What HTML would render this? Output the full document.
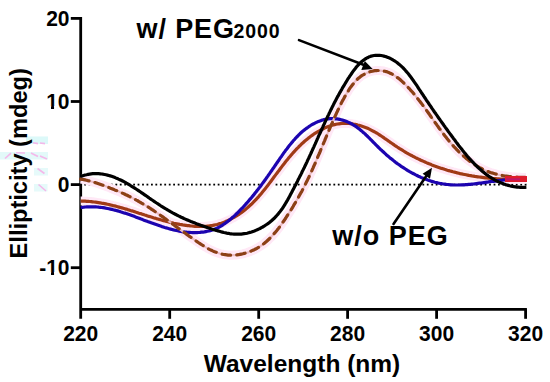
<!DOCTYPE html>
<html><head><meta charset="utf-8"><style>
html,body{margin:0;padding:0;background:#fff;width:550px;height:382px;overflow:hidden}
svg{display:block}
text{font-family:"Liberation Sans",sans-serif}
</style></head><body>
<svg width="550" height="382" viewBox="0 0 550 382"><g opacity="0.85"><rect x="26" y="136.5" width="22" height="7.5" fill="#d6f8f8"/><rect x="0" y="152" width="48" height="7.5" fill="#dff9f9"/><rect x="34" y="168" width="14" height="7.5" fill="#e2fafa"/><rect x="34" y="184" width="13.5" height="7.5" fill="#e2fafa"/></g>
<g stroke="#f7a8e6" stroke-width="1.6" fill="none" opacity="0.8"><path d="M33,142.8 L38,143.6 M40,143 L45,143.6 M5,158.5 L11,153.2 M16,152.8 L25,153 M31,153 L38,156.5 M40,156 L47,159 M37.5,168.5 L44.5,173.5 M38.5,184.5 L46,191"/></g>
<line x1="80.7" y1="17" x2="80.7" y2="318.8" stroke="#000" stroke-width="2.8"/>
<line x1="80.7" y1="309.3" x2="526.9" y2="309.3" stroke="#000" stroke-width="2.8"/>
<line x1="70.8" y1="18.4" x2="80.7" y2="18.4" stroke="#000" stroke-width="2.8"/>
<line x1="70.8" y1="101.5" x2="80.7" y2="101.5" stroke="#000" stroke-width="2.8"/>
<line x1="70.8" y1="184.6" x2="80.7" y2="184.6" stroke="#000" stroke-width="2.8"/>
<line x1="70.8" y1="267.7" x2="80.7" y2="267.7" stroke="#000" stroke-width="2.8"/>
<line x1="169.7" y1="309.3" x2="169.7" y2="318.8" stroke="#000" stroke-width="2.8"/>
<line x1="258.7" y1="309.3" x2="258.7" y2="318.8" stroke="#000" stroke-width="2.8"/>
<line x1="347.6" y1="309.3" x2="347.6" y2="318.8" stroke="#000" stroke-width="2.8"/>
<line x1="436.6" y1="309.3" x2="436.6" y2="318.8" stroke="#000" stroke-width="2.8"/>
<line x1="525.6" y1="309.3" x2="525.6" y2="318.8" stroke="#000" stroke-width="2.8"/>
<g fill="#000"><rect x="84.2" y="183.7" width="1.8" height="1.8"/><rect x="88.7" y="183.7" width="1.8" height="1.8"/><rect x="93.1" y="183.7" width="1.8" height="1.8"/><rect x="97.6" y="183.7" width="1.8" height="1.8"/><rect x="102.0" y="183.7" width="1.8" height="1.8"/><rect x="106.5" y="183.7" width="1.8" height="1.8"/><rect x="110.9" y="183.7" width="1.8" height="1.8"/><rect x="115.4" y="183.7" width="1.8" height="1.8"/><rect x="119.8" y="183.7" width="1.8" height="1.8"/><rect x="124.3" y="183.7" width="1.8" height="1.8"/><rect x="128.7" y="183.7" width="1.8" height="1.8"/><rect x="133.2" y="183.7" width="1.8" height="1.8"/><rect x="137.6" y="183.7" width="1.8" height="1.8"/><rect x="142.1" y="183.7" width="1.8" height="1.8"/><rect x="146.5" y="183.7" width="1.8" height="1.8"/><rect x="151.0" y="183.7" width="1.8" height="1.8"/><rect x="155.4" y="183.7" width="1.8" height="1.8"/><rect x="159.9" y="183.7" width="1.8" height="1.8"/><rect x="164.3" y="183.7" width="1.8" height="1.8"/><rect x="168.8" y="183.7" width="1.8" height="1.8"/><rect x="173.2" y="183.7" width="1.8" height="1.8"/><rect x="177.7" y="183.7" width="1.8" height="1.8"/><rect x="182.1" y="183.7" width="1.8" height="1.8"/><rect x="186.6" y="183.7" width="1.8" height="1.8"/><rect x="191.0" y="183.7" width="1.8" height="1.8"/><rect x="195.5" y="183.7" width="1.8" height="1.8"/><rect x="199.9" y="183.7" width="1.8" height="1.8"/><rect x="204.4" y="183.7" width="1.8" height="1.8"/><rect x="208.8" y="183.7" width="1.8" height="1.8"/><rect x="213.3" y="183.7" width="1.8" height="1.8"/><rect x="217.7" y="183.7" width="1.8" height="1.8"/><rect x="222.2" y="183.7" width="1.8" height="1.8"/><rect x="226.6" y="183.7" width="1.8" height="1.8"/><rect x="231.1" y="183.7" width="1.8" height="1.8"/><rect x="235.5" y="183.7" width="1.8" height="1.8"/><rect x="240.0" y="183.7" width="1.8" height="1.8"/><rect x="244.4" y="183.7" width="1.8" height="1.8"/><rect x="248.9" y="183.7" width="1.8" height="1.8"/><rect x="253.3" y="183.7" width="1.8" height="1.8"/><rect x="257.8" y="183.7" width="1.8" height="1.8"/><rect x="262.2" y="183.7" width="1.8" height="1.8"/><rect x="266.7" y="183.7" width="1.8" height="1.8"/><rect x="271.1" y="183.7" width="1.8" height="1.8"/><rect x="275.6" y="183.7" width="1.8" height="1.8"/><rect x="280.0" y="183.7" width="1.8" height="1.8"/><rect x="284.5" y="183.7" width="1.8" height="1.8"/><rect x="288.9" y="183.7" width="1.8" height="1.8"/><rect x="293.4" y="183.7" width="1.8" height="1.8"/><rect x="297.8" y="183.7" width="1.8" height="1.8"/><rect x="302.2" y="183.7" width="1.8" height="1.8"/><rect x="306.7" y="183.7" width="1.8" height="1.8"/><rect x="311.1" y="183.7" width="1.8" height="1.8"/><rect x="315.6" y="183.7" width="1.8" height="1.8"/><rect x="320.0" y="183.7" width="1.8" height="1.8"/><rect x="324.5" y="183.7" width="1.8" height="1.8"/><rect x="328.9" y="183.7" width="1.8" height="1.8"/><rect x="333.4" y="183.7" width="1.8" height="1.8"/><rect x="337.8" y="183.7" width="1.8" height="1.8"/><rect x="342.3" y="183.7" width="1.8" height="1.8"/><rect x="346.7" y="183.7" width="1.8" height="1.8"/><rect x="351.2" y="183.7" width="1.8" height="1.8"/><rect x="355.6" y="183.7" width="1.8" height="1.8"/><rect x="360.1" y="183.7" width="1.8" height="1.8"/><rect x="364.5" y="183.7" width="1.8" height="1.8"/><rect x="369.0" y="183.7" width="1.8" height="1.8"/><rect x="373.4" y="183.7" width="1.8" height="1.8"/><rect x="377.9" y="183.7" width="1.8" height="1.8"/><rect x="382.3" y="183.7" width="1.8" height="1.8"/><rect x="386.8" y="183.7" width="1.8" height="1.8"/><rect x="391.2" y="183.7" width="1.8" height="1.8"/><rect x="395.7" y="183.7" width="1.8" height="1.8"/><rect x="400.1" y="183.7" width="1.8" height="1.8"/><rect x="404.6" y="183.7" width="1.8" height="1.8"/><rect x="409.0" y="183.7" width="1.8" height="1.8"/><rect x="413.5" y="183.7" width="1.8" height="1.8"/><rect x="417.9" y="183.7" width="1.8" height="1.8"/><rect x="422.4" y="183.7" width="1.8" height="1.8"/><rect x="426.8" y="183.7" width="1.8" height="1.8"/><rect x="431.3" y="183.7" width="1.8" height="1.8"/><rect x="435.7" y="183.7" width="1.8" height="1.8"/><rect x="440.2" y="183.7" width="1.8" height="1.8"/><rect x="444.6" y="183.7" width="1.8" height="1.8"/><rect x="449.1" y="183.7" width="1.8" height="1.8"/><rect x="453.5" y="183.7" width="1.8" height="1.8"/><rect x="458.0" y="183.7" width="1.8" height="1.8"/><rect x="462.4" y="183.7" width="1.8" height="1.8"/><rect x="466.9" y="183.7" width="1.8" height="1.8"/><rect x="471.3" y="183.7" width="1.8" height="1.8"/><rect x="475.8" y="183.7" width="1.8" height="1.8"/><rect x="480.2" y="183.7" width="1.8" height="1.8"/><rect x="484.7" y="183.7" width="1.8" height="1.8"/><rect x="489.1" y="183.7" width="1.8" height="1.8"/><rect x="493.6" y="183.7" width="1.8" height="1.8"/><rect x="498.0" y="183.7" width="1.8" height="1.8"/><rect x="502.5" y="183.7" width="1.8" height="1.8"/><rect x="506.9" y="183.7" width="1.8" height="1.8"/><rect x="511.4" y="183.7" width="1.8" height="1.8"/><rect x="515.8" y="183.7" width="1.8" height="1.8"/><rect x="520.3" y="183.7" width="1.8" height="1.8"/><rect x="524.7" y="183.7" width="1.8" height="1.8"/></g>
<g fill="none" stroke="#ffe8f6" stroke-width="9" stroke-linejoin="round" stroke-linecap="butt"><path d="M80.7,179.1L82.2,179.3 83.7,179.6 85.1,179.9 86.5,180.2 88.0,180.6 89.4,180.9 90.8,181.3 92.2,181.7 93.7,182.2 95.1,182.6 96.5,183.0 97.9,183.5 99.3,184.0 100.7,184.5 102.1,185.0 103.5,185.5 104.9,186.0 106.3,186.5 107.7,187.1 109.1,187.6 110.5,188.2 111.9,188.7 113.3,189.3 114.7,189.9 116.1,190.4 117.5,191.0 118.9,191.6 120.3,192.2 121.6,192.8 123.0,193.4 124.4,194.0 125.8,194.7 127.1,195.3 128.5,196.0 129.8,196.6 131.2,197.3 132.5,198.0 133.8,198.7 135.1,199.4 136.4,200.1 137.8,200.8 139.0,201.6 140.3,202.3 141.6,203.1 142.9,203.8 144.2,204.6 145.4,205.4 146.7,206.1 148.0,206.9 149.2,207.7 150.5,208.5 151.7,209.4 153.0,210.2 154.2,211.0 155.4,211.8 156.7,212.7 157.9,213.5 159.1,214.4 160.3,215.2 161.6,216.1 162.8,216.9 164.0,217.8 165.2,218.7 166.4,219.5 167.6,220.4 168.9,221.3 170.1,222.2 171.3,223.0 172.5,223.9 173.7,224.8 174.9,225.7 176.1,226.6 177.3,227.5 178.5,228.4 179.8,229.3 181.0,230.2 182.2,231.0 183.4,231.9 184.6,232.8 185.9,233.7 187.1,234.6 188.3,235.5 189.5,236.4 190.8,237.3 192.0,238.1 193.3,239.0 194.5,239.9 195.8,240.8 197.0,241.6 198.3,242.5 199.6,243.3 200.8,244.2 202.1,245.0 203.4,245.8 204.7,246.6 206.0,247.4 207.3,248.1 208.6,248.9 209.9,249.6 211.3,250.2 212.6,250.9 214.0,251.5 215.3,252.0 216.7,252.5 218.1,253.0 219.5,253.5 220.9,253.9 222.3,254.2 223.7,254.5 225.2,254.7 226.6,254.9 228.1,255.1 229.5,255.2 231.0,255.2 232.5,255.2 234.0,255.1 235.5,255.0 237.0,254.9 238.5,254.7 239.9,254.4 241.4,254.1 242.9,253.8 244.3,253.4 245.8,253.0 247.3,252.6 248.7,252.1 250.1,251.5 251.5,250.9 252.9,250.3 254.3,249.7 255.6,249.0 256.9,248.3 258.2,247.5 259.5,246.7 260.8,245.9 262.0,245.0 263.2,244.2 264.4,243.2 265.5,242.3 266.7,241.3 267.8,240.3 268.9,239.3 269.9,238.2 271.0,237.2 272.0,236.1 273.0,235.0 274.0,233.8 275.0,232.7 276.0,231.5 276.9,230.4 277.8,229.2 278.8,228.0 279.7,226.7 280.6,225.5 281.5,224.3 282.3,223.0 283.2,221.8 284.1,220.5 284.9,219.3 285.8,218.0 286.6,216.7 287.4,215.5 288.2,214.2 289.1,212.9 289.9,211.6 290.7,210.4 291.5,209.1 292.3,207.8 293.1,206.5 293.8,205.2 294.6,203.9 295.4,202.6 296.1,201.3 296.9,200.0 297.6,198.7 298.4,197.4 299.1,196.1 299.8,194.8 300.5,193.5 301.3,192.2 302.0,190.9 302.7,189.5 303.3,188.2 304.0,186.9 304.7,185.6 305.4,184.2 306.0,182.9 306.7,181.6 307.4,180.2 308.0,178.9 308.7,177.5 309.3,176.2 309.9,174.8 310.5,173.5 311.2,172.1 311.8,170.8 312.4,169.4 313.0,168.1 313.6,166.7 314.2,165.3 314.8,164.0 315.4,162.6 316.0,161.2 316.6,159.9 317.2,158.5 317.7,157.1 318.3,155.7 318.9,154.4 319.5,153.0 320.1,151.6 320.6,150.2 321.2,148.8 321.8,147.5 322.4,146.1 322.9,144.7 323.5,143.3 324.1,141.9 324.7,140.6 325.2,139.2 325.8,137.8 326.4,136.4 327.0,135.0 327.5,133.6 328.1,132.2 328.7,130.9 329.3,129.5 329.9,128.1 330.5,126.7 331.1,125.3 331.7,123.9 332.3,122.6 332.9,121.2 333.5,119.8 334.1,118.4 334.7,117.0 335.4,115.7 336.0,114.3 336.6,112.9 337.3,111.5 337.9,110.1 338.6,108.8 339.2,107.4 339.9,106.0 340.6,104.7 341.2,103.3 341.9,101.9 342.6,100.6 343.4,99.2 344.1,97.9 344.8,96.6 345.6,95.2 346.4,93.9 347.2,92.6 348.0,91.3 348.8,90.0 349.6,88.7 350.5,87.4 351.4,86.2 352.3,85.0 353.3,83.8 354.2,82.6 355.2,81.5 356.2,80.4 357.3,79.3 358.4,78.3 359.5,77.4 360.6,76.5 361.8,75.6 363.1,74.9 364.3,74.2 365.6,73.5 366.9,72.9 368.2,72.4 369.5,71.9 370.9,71.5 372.3,71.2 373.6,70.9 375.0,70.7 376.4,70.6 377.8,70.5 379.2,70.5 380.6,70.6 382.0,70.8 383.4,71.0 384.8,71.3 386.2,71.6 387.5,72.1 388.9,72.6 390.2,73.2 391.5,73.8 392.8,74.5 394.1,75.3 395.4,76.1 396.6,77.0 397.9,77.9 399.1,78.8 400.3,79.8 401.5,80.9 402.6,81.9 403.8,83.0 404.9,84.1 406.0,85.2 407.1,86.4 408.2,87.5 409.3,88.6 410.3,89.8 411.4,91.0 412.4,92.1 413.4,93.3 414.4,94.5 415.3,95.6 416.3,96.8 417.2,98.0 418.2,99.2 419.1,100.4 420.0,101.5 420.9,102.7 421.8,103.9 422.7,105.1 423.6,106.3 424.5,107.5 425.3,108.7 426.2,109.9 427.1,111.1 427.9,112.3 428.8,113.5 429.6,114.7 430.5,116.0 431.3,117.2 432.2,118.4 433.0,119.6 433.9,120.8 434.7,122.0 435.6,123.2 436.5,124.4 437.3,125.6 438.2,126.8 439.0,128.0 439.9,129.2 440.8,130.4 441.7,131.6 442.6,132.8 443.5,134.0 444.4,135.2 445.3,136.4 446.3,137.5 447.2,138.7 448.2,139.9 449.1,141.1 450.1,142.2 451.1,143.4 452.1,144.5 453.1,145.7 454.1,146.8 455.2,147.9 456.2,149.0 457.3,150.1 458.3,151.2 459.4,152.3 460.5,153.3 461.6,154.4 462.7,155.4 463.9,156.4 465.0,157.4 466.1,158.4 467.3,159.3 468.5,160.2 469.7,161.2 470.9,162.1 472.1,162.9 473.3,163.8 474.6,164.6 475.8,165.4 477.1,166.2 478.3,166.9 479.6,167.7 480.9,168.3 482.3,169.0 483.6,169.7 484.9,170.3 486.3,170.8 487.7,171.4 489.1,171.9 490.4,172.4 491.9,172.9 493.3,173.3 494.7,173.7 496.1,174.1 497.6,174.5 499.0,174.8 500.5,175.1 502.0,175.4 503.4,175.7 504.9,176.0 506.4,176.2 507.9,176.4 509.4,176.6 510.9,176.7 512.4,176.9 513.9,177.0 515.4,177.1 516.9,177.2 518.5,177.3 520.0,177.3 521.5,177.4 523.0,177.4 524.5,177.4 526.0,177.4"/><path d="M80.7,201.1L82.1,201.1 83.6,201.2 85.1,201.2 86.7,201.3 88.2,201.4 89.7,201.5 91.2,201.6 92.6,201.8 94.1,202.0 95.6,202.2 97.1,202.4 98.6,202.6 100.0,202.8 101.5,203.1 103.0,203.3 104.4,203.6 105.9,203.9 107.4,204.2 108.8,204.5 110.3,204.9 111.7,205.2 113.2,205.6 114.6,205.9 116.1,206.3 117.5,206.7 119.0,207.1 120.4,207.5 121.8,207.9 123.3,208.3 124.7,208.7 126.1,209.1 127.6,209.6 129.0,210.0 130.4,210.5 131.9,210.9 133.3,211.3 134.7,211.8 136.2,212.3 137.6,212.7 139.0,213.2 140.5,213.6 141.9,214.1 143.3,214.5 144.8,215.0 146.2,215.4 147.6,215.9 149.1,216.4 150.5,216.8 152.0,217.2 153.4,217.7 154.8,218.1 156.3,218.6 157.7,219.0 159.2,219.4 160.6,219.8 162.1,220.2 163.5,220.6 165.0,221.0 166.5,221.4 167.9,221.8 169.4,222.1 170.9,222.5 172.3,222.8 173.8,223.2 175.3,223.5 176.8,223.8 178.3,224.1 179.8,224.4 181.3,224.6 182.8,224.9 184.3,225.1 185.8,225.3 187.3,225.6 188.8,225.7 190.3,225.9 191.8,226.0 193.3,226.2 194.8,226.3 196.3,226.3 197.8,226.4 199.3,226.4 200.8,226.4 202.3,226.4 203.8,226.4 205.3,226.3 206.8,226.2 208.3,226.0 209.8,225.8 211.2,225.6 212.7,225.4 214.1,225.1 215.6,224.8 217.0,224.5 218.4,224.1 219.9,223.6 221.3,223.2 222.7,222.7 224.0,222.2 225.4,221.6 226.8,221.1 228.1,220.4 229.5,219.8 230.8,219.1 232.1,218.4 233.4,217.7 234.7,217.0 236.0,216.2 237.2,215.4 238.5,214.6 239.7,213.7 241.0,212.9 242.2,212.0 243.4,211.1 244.5,210.2 245.7,209.2 246.8,208.3 248.0,207.3 249.1,206.3 250.2,205.3 251.3,204.3 252.3,203.3 253.4,202.2 254.4,201.1 255.4,200.1 256.5,199.0 257.5,197.9 258.5,196.8 259.4,195.7 260.4,194.6 261.4,193.4 262.3,192.3 263.3,191.1 264.2,190.0 265.2,188.8 266.1,187.6 267.0,186.4 267.9,185.3 268.8,184.1 269.7,182.9 270.6,181.7 271.5,180.5 272.4,179.3 273.3,178.0 274.2,176.8 275.1,175.6 276.0,174.4 276.9,173.2 277.8,172.0 278.8,170.8 279.7,169.5 280.6,168.3 281.5,167.1 282.4,165.9 283.3,164.7 284.3,163.5 285.2,162.3 286.1,161.1 287.1,159.9 288.1,158.7 289.0,157.6 290.0,156.4 291.0,155.2 292.0,154.1 293.0,152.9 294.0,151.8 295.1,150.6 296.1,149.5 297.2,148.4 298.3,147.3 299.3,146.2 300.4,145.2 301.5,144.1 302.7,143.1 303.8,142.0 304.9,141.0 306.1,140.0 307.3,139.1 308.4,138.1 309.6,137.2 310.8,136.3 312.1,135.4 313.3,134.5 314.5,133.7 315.8,132.9 317.1,132.1 318.4,131.3 319.7,130.6 321.0,129.8 322.3,129.2 323.7,128.5 325.0,127.9 326.4,127.3 327.7,126.7 329.1,126.2 330.5,125.8 331.9,125.3 333.3,124.9 334.7,124.6 336.1,124.3 337.6,124.0 339.0,123.8 340.4,123.6 341.9,123.5 343.3,123.4 344.7,123.4 346.2,123.4 347.6,123.4 349.1,123.5 350.5,123.7 352.0,123.8 353.4,124.1 354.9,124.3 356.3,124.6 357.8,125.0 359.2,125.3 360.6,125.7 362.0,126.2 363.4,126.7 364.8,127.2 366.2,127.7 367.6,128.3 368.9,128.9 370.3,129.6 371.6,130.3 372.9,131.0 374.3,131.7 375.6,132.5 376.9,133.2 378.2,134.0 379.5,134.9 380.7,135.7 382.0,136.5 383.3,137.4 384.5,138.3 385.8,139.1 387.1,140.0 388.3,140.9 389.6,141.8 390.8,142.7 392.1,143.5 393.4,144.4 394.6,145.3 395.9,146.1 397.2,147.0 398.5,147.8 399.7,148.6 401.0,149.4 402.3,150.2 403.6,151.0 404.9,151.8 406.2,152.6 407.5,153.3 408.9,154.1 410.2,154.8 411.5,155.5 412.8,156.2 414.2,156.9 415.5,157.6 416.8,158.2 418.2,158.9 419.5,159.5 420.9,160.2 422.2,160.8 423.6,161.4 425.0,162.0 426.3,162.6 427.7,163.2 429.1,163.8 430.5,164.3 431.8,164.9 433.2,165.4 434.6,165.9 436.0,166.4 437.4,166.9 438.8,167.4 440.2,167.9 441.6,168.4 443.0,168.8 444.5,169.3 445.9,169.7 447.3,170.2 448.7,170.6 450.2,171.0 451.6,171.4 453.0,171.8 454.5,172.1 455.9,172.5 457.3,172.9 458.8,173.2 460.2,173.6 461.7,173.9 463.1,174.2 464.6,174.5 466.1,174.8 467.5,175.1 469.0,175.4 470.5,175.6 471.9,175.9 473.4,176.1 474.9,176.4 476.4,176.6 477.8,176.8 479.3,177.0 480.8,177.2 482.3,177.4 483.8,177.6 485.3,177.8 486.8,177.9 488.3,178.1 489.8,178.2 491.3,178.4 492.8,178.5 494.3,178.6 495.8,178.7 497.3,178.8 498.8,178.9 500.3,179.0 501.8,179.1 503.4,179.1 504.9,179.2 506.4,179.2 507.9,179.3 509.4,179.3 511.0,179.3 512.5,179.3 514.0,179.3 515.5,179.3 517.1,179.3 518.6,179.3 520.1,179.3 521.7,179.2 523.2,179.2 524.7,179.1 526.0,179.1"/></g>
<path d="M80.7,201.1L82.1,201.1 83.6,201.2 85.1,201.2 86.7,201.3 88.2,201.4 89.7,201.5 91.2,201.6 92.6,201.8 94.1,202.0 95.6,202.2 97.1,202.4 98.6,202.6 100.0,202.8 101.5,203.1 103.0,203.3 104.4,203.6 105.9,203.9 107.4,204.2 108.8,204.5 110.3,204.9 111.7,205.2 113.2,205.6 114.6,205.9 116.1,206.3 117.5,206.7 119.0,207.1 120.4,207.5 121.8,207.9 123.3,208.3 124.7,208.7 126.1,209.1 127.6,209.6 129.0,210.0 130.4,210.5 131.9,210.9 133.3,211.3 134.7,211.8 136.2,212.3 137.6,212.7 139.0,213.2 140.5,213.6 141.9,214.1 143.3,214.5 144.8,215.0 146.2,215.4 147.6,215.9 149.1,216.4 150.5,216.8 152.0,217.2 153.4,217.7 154.8,218.1 156.3,218.6 157.7,219.0 159.2,219.4 160.6,219.8 162.1,220.2 163.5,220.6 165.0,221.0 166.5,221.4 167.9,221.8 169.4,222.1 170.9,222.5 172.3,222.8 173.8,223.2 175.3,223.5 176.8,223.8 178.3,224.1 179.8,224.4 181.3,224.6 182.8,224.9 184.3,225.1 185.8,225.3 187.3,225.6 188.8,225.7 190.3,225.9 191.8,226.0 193.3,226.2 194.8,226.3 196.3,226.3 197.8,226.4 199.3,226.4 200.8,226.4 202.3,226.4 203.8,226.4 205.3,226.3 206.8,226.2 208.3,226.0 209.8,225.8 211.2,225.6 212.7,225.4 214.1,225.1 215.6,224.8 217.0,224.5 218.4,224.1 219.9,223.6 221.3,223.2 222.7,222.7 224.0,222.2 225.4,221.6 226.8,221.1 228.1,220.4 229.5,219.8 230.8,219.1 232.1,218.4 233.4,217.7 234.7,217.0 236.0,216.2 237.2,215.4 238.5,214.6 239.7,213.7 241.0,212.9 242.2,212.0 243.4,211.1 244.5,210.2 245.7,209.2 246.8,208.3 248.0,207.3 249.1,206.3 250.2,205.3 251.3,204.3 252.3,203.3 253.4,202.2 254.4,201.1 255.4,200.1 256.5,199.0 257.5,197.9 258.5,196.8 259.4,195.7 260.4,194.6 261.4,193.4 262.3,192.3 263.3,191.1 264.2,190.0 265.2,188.8 266.1,187.6 267.0,186.4 267.9,185.3 268.8,184.1 269.7,182.9 270.6,181.7 271.5,180.5 272.4,179.3 273.3,178.0 274.2,176.8 275.1,175.6 276.0,174.4 276.9,173.2 277.8,172.0 278.8,170.8 279.7,169.5 280.6,168.3 281.5,167.1 282.4,165.9 283.3,164.7 284.3,163.5 285.2,162.3 286.1,161.1 287.1,159.9 288.1,158.7 289.0,157.6 290.0,156.4 291.0,155.2 292.0,154.1 293.0,152.9 294.0,151.8 295.1,150.6 296.1,149.5 297.2,148.4 298.3,147.3 299.3,146.2 300.4,145.2 301.5,144.1 302.7,143.1 303.8,142.0 304.9,141.0 306.1,140.0 307.3,139.1 308.4,138.1 309.6,137.2 310.8,136.3 312.1,135.4 313.3,134.5 314.5,133.7 315.8,132.9 317.1,132.1 318.4,131.3 319.7,130.6 321.0,129.8 322.3,129.2 323.7,128.5 325.0,127.9 326.4,127.3 327.7,126.7 329.1,126.2 330.5,125.8 331.9,125.3 333.3,124.9 334.7,124.6 336.1,124.3 337.6,124.0 339.0,123.8 340.4,123.6 341.9,123.5 343.3,123.4 344.7,123.4 346.2,123.4 347.6,123.4 349.1,123.5 350.5,123.7 352.0,123.8 353.4,124.1 354.9,124.3 356.3,124.6 357.8,125.0 359.2,125.3 360.6,125.7 362.0,126.2 363.4,126.7 364.8,127.2 366.2,127.7 367.6,128.3 368.9,128.9 370.3,129.6 371.6,130.3 372.9,131.0 374.3,131.7 375.6,132.5 376.9,133.2 378.2,134.0 379.5,134.9 380.7,135.7 382.0,136.5 383.3,137.4 384.5,138.3 385.8,139.1 387.1,140.0 388.3,140.9 389.6,141.8 390.8,142.7 392.1,143.5 393.4,144.4 394.6,145.3 395.9,146.1 397.2,147.0 398.5,147.8 399.7,148.6 401.0,149.4 402.3,150.2 403.6,151.0 404.9,151.8 406.2,152.6 407.5,153.3 408.9,154.1 410.2,154.8 411.5,155.5 412.8,156.2 414.2,156.9 415.5,157.6 416.8,158.2 418.2,158.9 419.5,159.5 420.9,160.2 422.2,160.8 423.6,161.4 425.0,162.0 426.3,162.6 427.7,163.2 429.1,163.8 430.5,164.3 431.8,164.9 433.2,165.4 434.6,165.9 436.0,166.4 437.4,166.9 438.8,167.4 440.2,167.9 441.6,168.4 443.0,168.8 444.5,169.3 445.9,169.7 447.3,170.2 448.7,170.6 450.2,171.0 451.6,171.4 453.0,171.8 454.5,172.1 455.9,172.5 457.3,172.9 458.8,173.2 460.2,173.6 461.7,173.9 463.1,174.2 464.6,174.5 466.1,174.8 467.5,175.1 469.0,175.4 470.5,175.6 471.9,175.9 473.4,176.1 474.9,176.4 476.4,176.6 477.8,176.8 479.3,177.0 480.8,177.2 482.3,177.4 483.8,177.6 485.3,177.8 486.8,177.9 488.3,178.1 489.8,178.2 491.3,178.4 492.8,178.5 494.3,178.6 495.8,178.7 497.3,178.8 498.8,178.9 500.3,179.0 501.8,179.1 503.4,179.1 504.9,179.2 506.4,179.2 507.9,179.3 509.4,179.3 511.0,179.3 512.5,179.3 514.0,179.3 515.5,179.3 517.1,179.3 518.6,179.3 520.1,179.3 521.7,179.2 523.2,179.2 524.7,179.1 526.0,179.1" fill="none" stroke="#a03a16" stroke-width="3.2" stroke-linejoin="round"/>
<path d="M80.7,207.6L82.3,207.3 83.8,207.2 85.3,207.0 86.8,206.9 88.3,206.8 89.8,206.8 91.3,206.8 92.8,206.8 94.3,206.9 95.7,206.9 97.2,207.0 98.7,207.2 100.2,207.3 101.6,207.5 103.1,207.7 104.6,207.9 106.0,208.2 107.5,208.5 108.9,208.8 110.4,209.1 111.8,209.4 113.3,209.8 114.7,210.1 116.2,210.5 117.6,210.9 119.0,211.3 120.5,211.8 121.9,212.2 123.4,212.7 124.8,213.1 126.2,213.6 127.6,214.1 129.1,214.6 130.5,215.1 131.9,215.6 133.4,216.1 134.8,216.6 136.2,217.2 137.6,217.7 139.1,218.2 140.5,218.8 141.9,219.3 143.3,219.9 144.7,220.4 146.2,220.9 147.6,221.5 149.0,222.0 150.5,222.5 151.9,223.1 153.3,223.6 154.7,224.1 156.2,224.6 157.6,225.1 159.0,225.6 160.5,226.1 161.9,226.6 163.3,227.0 164.8,227.5 166.2,227.9 167.7,228.3 169.1,228.7 170.6,229.1 172.0,229.5 173.5,229.9 174.9,230.2 176.4,230.5 177.8,230.8 179.3,231.1 180.8,231.4 182.2,231.6 183.7,231.8 185.2,232.0 186.7,232.2 188.2,232.3 189.6,232.4 191.1,232.5 192.6,232.6 194.1,232.6 195.6,232.6 197.1,232.6 198.6,232.5 200.0,232.4 201.5,232.2 203.0,232.1 204.4,231.9 205.9,231.6 207.3,231.3 208.8,231.0 210.2,230.6 211.6,230.2 213.0,229.8 214.3,229.2 215.7,228.7 217.0,228.1 218.3,227.5 219.6,226.8 220.9,226.1 222.2,225.3 223.4,224.5 224.7,223.7 225.9,222.8 227.1,221.9 228.3,221.0 229.5,220.1 230.7,219.1 231.8,218.1 233.0,217.1 234.1,216.1 235.2,215.1 236.3,214.0 237.4,213.0 238.5,211.9 239.5,210.8 240.6,209.7 241.6,208.7 242.7,207.6 243.7,206.5 244.7,205.4 245.7,204.2 246.7,203.1 247.7,202.0 248.7,200.9 249.6,199.7 250.6,198.6 251.6,197.5 252.5,196.3 253.5,195.2 254.4,194.0 255.3,192.8 256.2,191.7 257.1,190.5 258.1,189.3 259.0,188.1 259.9,187.0 260.8,185.8 261.6,184.6 262.5,183.4 263.4,182.2 264.3,181.0 265.2,179.8 266.0,178.6 266.9,177.3 267.8,176.1 268.6,174.9 269.5,173.7 270.4,172.4 271.2,171.2 272.1,170.0 272.9,168.7 273.8,167.5 274.7,166.2 275.5,165.0 276.4,163.7 277.2,162.5 278.1,161.2 279.0,160.0 279.8,158.7 280.7,157.4 281.6,156.2 282.5,154.9 283.3,153.7 284.2,152.4 285.1,151.2 286.0,149.9 287.0,148.7 287.9,147.5 288.8,146.3 289.8,145.1 290.7,143.9 291.7,142.7 292.7,141.6 293.6,140.4 294.7,139.3 295.7,138.1 296.7,137.0 297.8,136.0 298.8,134.9 299.9,133.8 301.0,132.8 302.1,131.8 303.3,130.8 304.4,129.9 305.6,129.0 306.8,128.1 308.1,127.2 309.3,126.3 310.6,125.5 311.9,124.7 313.2,124.0 314.5,123.3 315.8,122.6 317.2,122.0 318.5,121.4 319.9,120.9 321.3,120.4 322.7,120.0 324.1,119.6 325.5,119.3 326.9,119.0 328.3,118.8 329.7,118.7 331.2,118.6 332.6,118.6 334.0,118.7 335.4,118.8 336.9,118.9 338.3,119.1 339.7,119.4 341.1,119.7 342.5,120.1 343.9,120.5 345.3,121.0 346.6,121.5 348.0,122.1 349.3,122.7 350.6,123.3 351.9,124.0 353.2,124.8 354.4,125.5 355.7,126.4 356.9,127.2 358.1,128.1 359.3,129.0 360.4,129.9 361.6,130.9 362.7,131.9 363.9,132.9 365.0,133.9 366.1,135.0 367.2,136.0 368.3,137.1 369.4,138.2 370.5,139.3 371.6,140.4 372.6,141.5 373.7,142.6 374.8,143.7 375.9,144.8 377.0,145.9 378.1,147.0 379.2,148.1 380.3,149.2 381.5,150.2 382.6,151.3 383.7,152.3 384.9,153.4 386.0,154.4 387.2,155.4 388.4,156.4 389.5,157.4 390.7,158.4 391.9,159.3 393.1,160.3 394.3,161.2 395.5,162.2 396.7,163.1 397.9,164.0 399.2,164.8 400.4,165.7 401.6,166.6 402.9,167.4 404.1,168.2 405.4,169.0 406.7,169.8 407.9,170.6 409.2,171.4 410.5,172.1 411.8,172.8 413.1,173.5 414.4,174.2 415.7,174.9 417.0,175.5 418.4,176.2 419.7,176.8 421.0,177.4 422.4,177.9 423.7,178.5 425.1,179.0 426.5,179.5 427.8,180.0 429.2,180.5 430.6,180.9 432.0,181.4 433.4,181.8 434.8,182.2 436.2,182.5 437.6,182.9 439.1,183.2 440.5,183.5 441.9,183.7 443.4,184.0 444.8,184.2 446.3,184.4 447.7,184.5 449.2,184.7 450.7,184.8 452.1,184.9 453.6,185.0 455.1,185.0 456.6,185.0 458.1,185.0 459.6,185.0 461.1,184.9 462.6,184.9 464.1,184.8 465.7,184.7 467.2,184.6 468.7,184.4 470.2,184.3 471.8,184.1 473.3,184.0 474.8,183.8 476.4,183.6 477.9,183.4 479.4,183.2 481.0,183.0 482.5,182.8 484.1,182.6 485.6,182.4 487.1,182.2 488.7,181.9 490.2,181.7 491.7,181.5 493.3,181.3 494.8,181.1 496.3,180.9 497.8,180.7 499.3,180.5 500.9,180.3 502.4,180.2 503.9,180.0 505.4,179.9 506.9,179.7 508.4,179.6 509.8,179.5 511.3,179.4 512.8,179.4 514.3,179.3 515.7,179.3 517.2,179.3 518.6,179.3 520.0,179.3 521.5,179.4 522.9,179.5 524.3,179.6 526.0,179.7" fill="none" stroke="#1c04b0" stroke-width="3.2" stroke-linejoin="round"/>
<path d="M80.7,179.1L82.2,179.3 83.7,179.6 85.1,179.9 86.5,180.2 88.0,180.6 89.4,180.9 90.8,181.3 92.2,181.7 93.7,182.2 95.1,182.6 96.5,183.0 97.9,183.5 99.3,184.0 100.7,184.5 102.1,185.0 103.5,185.5 104.9,186.0 106.3,186.5 107.7,187.1 109.1,187.6 110.5,188.2 111.9,188.7 113.3,189.3 114.7,189.9 116.1,190.4 117.5,191.0 118.9,191.6 120.3,192.2 121.6,192.8 123.0,193.4 124.4,194.0 125.8,194.7 127.1,195.3 128.5,196.0 129.8,196.6 131.2,197.3 132.5,198.0 133.8,198.7 135.1,199.4 136.4,200.1 137.8,200.8 139.0,201.6 140.3,202.3 141.6,203.1 142.9,203.8 144.2,204.6 145.4,205.4 146.7,206.1 148.0,206.9 149.2,207.7 150.5,208.5 151.7,209.4 153.0,210.2 154.2,211.0 155.4,211.8 156.7,212.7 157.9,213.5 159.1,214.4 160.3,215.2 161.6,216.1 162.8,216.9 164.0,217.8 165.2,218.7 166.4,219.5 167.6,220.4 168.9,221.3 170.1,222.2 171.3,223.0 172.5,223.9 173.7,224.8 174.9,225.7 176.1,226.6 177.3,227.5 178.5,228.4 179.8,229.3 181.0,230.2 182.2,231.0 183.4,231.9 184.6,232.8 185.9,233.7 187.1,234.6 188.3,235.5 189.5,236.4 190.8,237.3 192.0,238.1 193.3,239.0 194.5,239.9 195.8,240.8 197.0,241.6 198.3,242.5 199.6,243.3 200.8,244.2 202.1,245.0 203.4,245.8 204.7,246.6 206.0,247.4 207.3,248.1 208.6,248.9 209.9,249.6 211.3,250.2 212.6,250.9 214.0,251.5 215.3,252.0 216.7,252.5 218.1,253.0 219.5,253.5 220.9,253.9 222.3,254.2 223.7,254.5 225.2,254.7 226.6,254.9 228.1,255.1 229.5,255.2 231.0,255.2 232.5,255.2 234.0,255.1 235.5,255.0 237.0,254.9 238.5,254.7 239.9,254.4 241.4,254.1 242.9,253.8 244.3,253.4 245.8,253.0 247.3,252.6 248.7,252.1 250.1,251.5 251.5,250.9 252.9,250.3 254.3,249.7 255.6,249.0 256.9,248.3 258.2,247.5 259.5,246.7 260.8,245.9 262.0,245.0 263.2,244.2 264.4,243.2 265.5,242.3 266.7,241.3 267.8,240.3 268.9,239.3 269.9,238.2 271.0,237.2 272.0,236.1 273.0,235.0 274.0,233.8 275.0,232.7 276.0,231.5 276.9,230.4 277.8,229.2 278.8,228.0 279.7,226.7 280.6,225.5 281.5,224.3 282.3,223.0 283.2,221.8 284.1,220.5 284.9,219.3 285.8,218.0 286.6,216.7 287.4,215.5 288.2,214.2 289.1,212.9 289.9,211.6 290.7,210.4 291.5,209.1 292.3,207.8 293.1,206.5 293.8,205.2 294.6,203.9 295.4,202.6 296.1,201.3 296.9,200.0 297.6,198.7 298.4,197.4 299.1,196.1 299.8,194.8 300.5,193.5 301.3,192.2 302.0,190.9 302.7,189.5 303.3,188.2 304.0,186.9 304.7,185.6 305.4,184.2 306.0,182.9 306.7,181.6 307.4,180.2 308.0,178.9 308.7,177.5 309.3,176.2 309.9,174.8 310.5,173.5 311.2,172.1 311.8,170.8 312.4,169.4 313.0,168.1 313.6,166.7 314.2,165.3 314.8,164.0 315.4,162.6 316.0,161.2 316.6,159.9 317.2,158.5 317.7,157.1 318.3,155.7 318.9,154.4 319.5,153.0 320.1,151.6 320.6,150.2 321.2,148.8 321.8,147.5 322.4,146.1 322.9,144.7 323.5,143.3 324.1,141.9 324.7,140.6 325.2,139.2 325.8,137.8 326.4,136.4 327.0,135.0 327.5,133.6 328.1,132.2 328.7,130.9 329.3,129.5 329.9,128.1 330.5,126.7 331.1,125.3 331.7,123.9 332.3,122.6 332.9,121.2 333.5,119.8 334.1,118.4 334.7,117.0 335.4,115.7 336.0,114.3 336.6,112.9 337.3,111.5 337.9,110.1 338.6,108.8 339.2,107.4 339.9,106.0 340.6,104.7 341.2,103.3 341.9,101.9 342.6,100.6 343.4,99.2 344.1,97.9 344.8,96.6 345.6,95.2 346.4,93.9 347.2,92.6 348.0,91.3 348.8,90.0 349.6,88.7 350.5,87.4 351.4,86.2 352.3,85.0 353.3,83.8 354.2,82.6 355.2,81.5 356.2,80.4 357.3,79.3 358.4,78.3 359.5,77.4 360.6,76.5 361.8,75.6 363.1,74.9 364.3,74.2 365.6,73.5 366.9,72.9 368.2,72.4 369.5,71.9 370.9,71.5 372.3,71.2 373.6,70.9 375.0,70.7 376.4,70.6 377.8,70.5 379.2,70.5 380.6,70.6 382.0,70.8 383.4,71.0 384.8,71.3 386.2,71.6 387.5,72.1 388.9,72.6 390.2,73.2 391.5,73.8 392.8,74.5 394.1,75.3 395.4,76.1 396.6,77.0 397.9,77.9 399.1,78.8 400.3,79.8 401.5,80.9 402.6,81.9 403.8,83.0 404.9,84.1 406.0,85.2 407.1,86.4 408.2,87.5 409.3,88.6 410.3,89.8 411.4,91.0 412.4,92.1 413.4,93.3 414.4,94.5 415.3,95.6 416.3,96.8 417.2,98.0 418.2,99.2 419.1,100.4 420.0,101.5 420.9,102.7 421.8,103.9 422.7,105.1 423.6,106.3 424.5,107.5 425.3,108.7 426.2,109.9 427.1,111.1 427.9,112.3 428.8,113.5 429.6,114.7 430.5,116.0 431.3,117.2 432.2,118.4 433.0,119.6 433.9,120.8 434.7,122.0 435.6,123.2 436.5,124.4 437.3,125.6 438.2,126.8 439.0,128.0 439.9,129.2 440.8,130.4 441.7,131.6 442.6,132.8 443.5,134.0 444.4,135.2 445.3,136.4 446.3,137.5 447.2,138.7 448.2,139.9 449.1,141.1 450.1,142.2 451.1,143.4 452.1,144.5 453.1,145.7 454.1,146.8 455.2,147.9 456.2,149.0 457.3,150.1 458.3,151.2 459.4,152.3 460.5,153.3 461.6,154.4 462.7,155.4 463.9,156.4 465.0,157.4 466.1,158.4 467.3,159.3 468.5,160.2 469.7,161.2 470.9,162.1 472.1,162.9 473.3,163.8 474.6,164.6 475.8,165.4 477.1,166.2 478.3,166.9 479.6,167.7 480.9,168.3 482.3,169.0 483.6,169.7 484.9,170.3 486.3,170.8 487.7,171.4 489.1,171.9 490.4,172.4 491.9,172.9 493.3,173.3 494.7,173.7 496.1,174.1 497.6,174.5 499.0,174.8 500.5,175.1 502.0,175.4 503.4,175.7 504.9,176.0 506.4,176.2 507.9,176.4 509.4,176.6 510.9,176.7 512.4,176.9 513.9,177.0 515.4,177.1 516.9,177.2 518.5,177.3 520.0,177.3 521.5,177.4 523.0,177.4 524.5,177.4 526.0,177.4" fill="none" stroke="#eabcc4" stroke-width="2.2" stroke-linejoin="round"/>
<path d="M80.7,179.1L82.2,179.3 83.7,179.6 85.1,179.9 86.5,180.2 88.0,180.6 89.4,180.9 90.8,181.3 92.2,181.7 93.7,182.2 95.1,182.6 96.5,183.0 97.9,183.5 99.3,184.0 100.7,184.5 102.1,185.0 103.5,185.5 104.9,186.0 106.3,186.5 107.7,187.1 109.1,187.6 110.5,188.2 111.9,188.7 113.3,189.3 114.7,189.9 116.1,190.4 117.5,191.0 118.9,191.6 120.3,192.2 121.6,192.8 123.0,193.4 124.4,194.0 125.8,194.7 127.1,195.3 128.5,196.0 129.8,196.6 131.2,197.3 132.5,198.0 133.8,198.7 135.1,199.4 136.4,200.1 137.8,200.8 139.0,201.6 140.3,202.3 141.6,203.1 142.9,203.8 144.2,204.6 145.4,205.4 146.7,206.1 148.0,206.9 149.2,207.7 150.5,208.5 151.7,209.4 153.0,210.2 154.2,211.0 155.4,211.8 156.7,212.7 157.9,213.5 159.1,214.4 160.3,215.2 161.6,216.1 162.8,216.9 164.0,217.8 165.2,218.7 166.4,219.5 167.6,220.4 168.9,221.3 170.1,222.2 171.3,223.0 172.5,223.9 173.7,224.8 174.9,225.7 176.1,226.6 177.3,227.5 178.5,228.4 179.8,229.3 181.0,230.2 182.2,231.0 183.4,231.9 184.6,232.8 185.9,233.7 187.1,234.6 188.3,235.5 189.5,236.4 190.8,237.3 192.0,238.1 193.3,239.0 194.5,239.9 195.8,240.8 197.0,241.6 198.3,242.5 199.6,243.3 200.8,244.2 202.1,245.0 203.4,245.8 204.7,246.6 206.0,247.4 207.3,248.1 208.6,248.9 209.9,249.6 211.3,250.2 212.6,250.9 214.0,251.5 215.3,252.0 216.7,252.5 218.1,253.0 219.5,253.5 220.9,253.9 222.3,254.2 223.7,254.5 225.2,254.7 226.6,254.9 228.1,255.1 229.5,255.2 231.0,255.2 232.5,255.2 234.0,255.1 235.5,255.0 237.0,254.9 238.5,254.7 239.9,254.4 241.4,254.1 242.9,253.8 244.3,253.4 245.8,253.0 247.3,252.6 248.7,252.1 250.1,251.5 251.5,250.9 252.9,250.3 254.3,249.7 255.6,249.0 256.9,248.3 258.2,247.5 259.5,246.7 260.8,245.9 262.0,245.0 263.2,244.2 264.4,243.2 265.5,242.3 266.7,241.3 267.8,240.3 268.9,239.3 269.9,238.2 271.0,237.2 272.0,236.1 273.0,235.0 274.0,233.8 275.0,232.7 276.0,231.5 276.9,230.4 277.8,229.2 278.8,228.0 279.7,226.7 280.6,225.5 281.5,224.3 282.3,223.0 283.2,221.8 284.1,220.5 284.9,219.3 285.8,218.0 286.6,216.7 287.4,215.5 288.2,214.2 289.1,212.9 289.9,211.6 290.7,210.4 291.5,209.1 292.3,207.8 293.1,206.5 293.8,205.2 294.6,203.9 295.4,202.6 296.1,201.3 296.9,200.0 297.6,198.7 298.4,197.4 299.1,196.1 299.8,194.8 300.5,193.5 301.3,192.2 302.0,190.9 302.7,189.5 303.3,188.2 304.0,186.9 304.7,185.6 305.4,184.2 306.0,182.9 306.7,181.6 307.4,180.2 308.0,178.9 308.7,177.5 309.3,176.2 309.9,174.8 310.5,173.5 311.2,172.1 311.8,170.8 312.4,169.4 313.0,168.1 313.6,166.7 314.2,165.3 314.8,164.0 315.4,162.6 316.0,161.2 316.6,159.9 317.2,158.5 317.7,157.1 318.3,155.7 318.9,154.4 319.5,153.0 320.1,151.6 320.6,150.2 321.2,148.8 321.8,147.5 322.4,146.1 322.9,144.7 323.5,143.3 324.1,141.9 324.7,140.6 325.2,139.2 325.8,137.8 326.4,136.4 327.0,135.0 327.5,133.6 328.1,132.2 328.7,130.9 329.3,129.5 329.9,128.1 330.5,126.7 331.1,125.3 331.7,123.9 332.3,122.6 332.9,121.2 333.5,119.8 334.1,118.4 334.7,117.0 335.4,115.7 336.0,114.3 336.6,112.9 337.3,111.5 337.9,110.1 338.6,108.8 339.2,107.4 339.9,106.0 340.6,104.7 341.2,103.3 341.9,101.9 342.6,100.6 343.4,99.2 344.1,97.9 344.8,96.6 345.6,95.2 346.4,93.9 347.2,92.6 348.0,91.3 348.8,90.0 349.6,88.7 350.5,87.4 351.4,86.2 352.3,85.0 353.3,83.8 354.2,82.6 355.2,81.5 356.2,80.4 357.3,79.3 358.4,78.3 359.5,77.4 360.6,76.5 361.8,75.6 363.1,74.9 364.3,74.2 365.6,73.5 366.9,72.9 368.2,72.4 369.5,71.9 370.9,71.5 372.3,71.2 373.6,70.9 375.0,70.7 376.4,70.6 377.8,70.5 379.2,70.5 380.6,70.6 382.0,70.8 383.4,71.0 384.8,71.3 386.2,71.6 387.5,72.1 388.9,72.6 390.2,73.2 391.5,73.8 392.8,74.5 394.1,75.3 395.4,76.1 396.6,77.0 397.9,77.9 399.1,78.8 400.3,79.8 401.5,80.9 402.6,81.9 403.8,83.0 404.9,84.1 406.0,85.2 407.1,86.4 408.2,87.5 409.3,88.6 410.3,89.8 411.4,91.0 412.4,92.1 413.4,93.3 414.4,94.5 415.3,95.6 416.3,96.8 417.2,98.0 418.2,99.2 419.1,100.4 420.0,101.5 420.9,102.7 421.8,103.9 422.7,105.1 423.6,106.3 424.5,107.5 425.3,108.7 426.2,109.9 427.1,111.1 427.9,112.3 428.8,113.5 429.6,114.7 430.5,116.0 431.3,117.2 432.2,118.4 433.0,119.6 433.9,120.8 434.7,122.0 435.6,123.2 436.5,124.4 437.3,125.6 438.2,126.8 439.0,128.0 439.9,129.2 440.8,130.4 441.7,131.6 442.6,132.8 443.5,134.0 444.4,135.2 445.3,136.4 446.3,137.5 447.2,138.7 448.2,139.9 449.1,141.1 450.1,142.2 451.1,143.4 452.1,144.5 453.1,145.7 454.1,146.8 455.2,147.9 456.2,149.0 457.3,150.1 458.3,151.2 459.4,152.3 460.5,153.3 461.6,154.4 462.7,155.4 463.9,156.4 465.0,157.4 466.1,158.4 467.3,159.3 468.5,160.2 469.7,161.2 470.9,162.1 472.1,162.9 473.3,163.8 474.6,164.6 475.8,165.4 477.1,166.2 478.3,166.9 479.6,167.7 480.9,168.3 482.3,169.0 483.6,169.7 484.9,170.3 486.3,170.8 487.7,171.4 489.1,171.9 490.4,172.4 491.9,172.9 493.3,173.3 494.7,173.7 496.1,174.1 497.6,174.5 499.0,174.8 500.5,175.1 502.0,175.4 503.4,175.7 504.9,176.0 506.4,176.2 507.9,176.4 509.4,176.6 510.9,176.7 512.4,176.9 513.9,177.0 515.4,177.1 516.9,177.2 518.5,177.3 520.0,177.3 521.5,177.4 523.0,177.4 524.5,177.4 526.0,177.4" fill="none" stroke="#8c4016" stroke-width="3.2" stroke-dasharray="8.5 6.19" stroke-dashoffset="0" stroke-linecap="round" stroke-linejoin="round"/>
<path d="M80.7,176.6L81.9,176.0 83.5,175.5 85.1,175.0 86.6,174.7 88.2,174.3 89.7,174.1 91.2,173.9 92.8,173.7 94.3,173.7 95.8,173.6 97.3,173.6 98.7,173.7 100.2,173.8 101.7,174.0 103.1,174.2 104.6,174.5 106.0,174.8 107.4,175.1 108.8,175.5 110.2,175.9 111.6,176.3 113.0,176.8 114.4,177.3 115.8,177.9 117.2,178.4 118.5,179.1 119.9,179.7 121.2,180.3 122.6,181.0 123.9,181.7 125.2,182.4 126.5,183.2 127.8,183.9 129.1,184.7 130.4,185.5 131.7,186.3 133.0,187.1 134.3,187.9 135.5,188.7 136.8,189.5 138.1,190.4 139.3,191.2 140.6,192.0 141.8,192.9 143.0,193.7 144.3,194.6 145.5,195.4 146.8,196.3 148.0,197.1 149.2,198.0 150.4,198.8 151.7,199.7 152.9,200.5 154.1,201.3 155.4,202.2 156.6,203.0 157.9,203.8 159.1,204.7 160.3,205.5 161.6,206.3 162.9,207.1 164.1,207.9 165.4,208.7 166.7,209.4 167.9,210.2 169.2,210.9 170.5,211.7 171.8,212.4 173.1,213.1 174.5,213.8 175.8,214.5 177.1,215.2 178.5,215.9 179.8,216.5 181.2,217.2 182.5,217.8 183.9,218.5 185.3,219.1 186.7,219.7 188.1,220.3 189.5,220.9 190.9,221.5 192.3,222.0 193.7,222.6 195.1,223.1 196.5,223.7 197.9,224.2 199.3,224.7 200.8,225.3 202.2,225.8 203.6,226.3 205.1,226.8 206.5,227.3 207.9,227.8 209.4,228.2 210.8,228.7 212.3,229.2 213.7,229.6 215.1,230.1 216.6,230.5 218.0,230.9 219.5,231.3 220.9,231.7 222.4,232.1 223.8,232.5 225.2,232.8 226.7,233.1 228.1,233.3 229.6,233.6 231.0,233.8 232.5,234.0 234.0,234.1 235.4,234.2 236.9,234.2 238.3,234.2 239.8,234.2 241.3,234.1 242.7,233.9 244.2,233.7 245.7,233.5 247.1,233.2 248.6,232.8 250.1,232.4 251.5,232.0 253.0,231.5 254.4,231.0 255.8,230.4 257.2,229.8 258.6,229.1 260.0,228.5 261.4,227.7 262.7,227.0 264.1,226.2 265.4,225.3 266.6,224.5 267.9,223.6 269.1,222.7 270.3,221.7 271.5,220.7 272.6,219.7 273.7,218.7 274.8,217.7 275.8,216.6 276.8,215.5 277.8,214.4 278.7,213.3 279.7,212.1 280.6,210.9 281.4,209.8 282.3,208.6 283.1,207.3 283.9,206.1 284.7,204.9 285.4,203.6 286.2,202.4 286.9,201.1 287.7,199.8 288.4,198.5 289.1,197.2 289.8,195.9 290.5,194.6 291.2,193.2 291.9,191.9 292.6,190.6 293.3,189.2 294.0,187.9 294.7,186.6 295.4,185.2 296.1,183.9 296.8,182.5 297.5,181.2 298.1,179.8 298.8,178.5 299.5,177.1 300.2,175.7 300.9,174.4 301.6,173.0 302.2,171.6 302.9,170.3 303.6,168.9 304.3,167.5 304.9,166.2 305.6,164.8 306.2,163.5 306.9,162.1 307.5,160.7 308.1,159.4 308.8,158.0 309.4,156.6 310.0,155.3 310.7,153.9 311.3,152.5 311.9,151.2 312.5,149.8 313.1,148.5 313.8,147.1 314.4,145.7 315.0,144.4 315.6,143.0 316.2,141.7 316.8,140.3 317.4,138.9 318.0,137.6 318.6,136.2 319.2,134.9 319.9,133.5 320.5,132.2 321.1,130.8 321.7,129.5 322.3,128.1 322.9,126.8 323.5,125.4 324.2,124.0 324.8,122.7 325.4,121.4 326.0,120.0 326.7,118.7 327.3,117.3 327.9,116.0 328.6,114.6 329.2,113.3 329.9,111.9 330.5,110.6 331.2,109.3 331.8,107.9 332.5,106.6 333.2,105.2 333.8,103.9 334.5,102.6 335.2,101.2 335.9,99.9 336.6,98.6 337.3,97.2 338.1,95.9 338.8,94.6 339.5,93.2 340.3,91.9 341.0,90.6 341.8,89.3 342.5,87.9 343.3,86.6 344.1,85.3 344.9,84.0 345.7,82.7 346.5,81.3 347.3,80.0 348.1,78.7 349.0,77.4 349.8,76.1 350.7,74.8 351.6,73.5 352.5,72.2 353.4,70.9 354.3,69.7 355.3,68.5 356.2,67.3 357.2,66.1 358.2,65.0 359.3,63.9 360.4,62.8 361.5,61.8 362.6,60.9 363.8,60.0 365.0,59.2 366.2,58.4 367.5,57.7 368.7,57.1 370.1,56.6 371.4,56.1 372.7,55.8 374.1,55.5 375.5,55.3 376.9,55.3 378.3,55.3 379.7,55.4 381.1,55.5 382.5,55.8 383.9,56.1 385.3,56.5 386.7,56.9 388.0,57.4 389.4,58.0 390.7,58.6 392.0,59.3 393.3,60.1 394.5,60.8 395.8,61.7 397.0,62.5 398.1,63.4 399.3,64.4 400.4,65.4 401.5,66.4 402.6,67.4 403.7,68.5 404.7,69.6 405.7,70.8 406.7,71.9 407.7,73.1 408.7,74.3 409.6,75.5 410.6,76.8 411.5,78.0 412.4,79.3 413.3,80.5 414.2,81.8 415.1,83.1 416.0,84.4 416.9,85.7 417.7,87.0 418.6,88.3 419.4,89.6 420.3,90.9 421.1,92.2 422.0,93.5 422.8,94.7 423.7,96.0 424.5,97.3 425.4,98.5 426.2,99.8 427.0,101.0 427.9,102.2 428.7,103.5 429.5,104.7 430.4,105.9 431.2,107.1 432.0,108.4 432.9,109.6 433.7,110.8 434.5,112.0 435.4,113.2 436.2,114.4 437.1,115.6 437.9,116.8 438.7,118.0 439.6,119.2 440.4,120.4 441.3,121.6 442.1,122.8 443.0,124.0 443.8,125.2 444.7,126.4 445.5,127.6 446.4,128.8 447.3,130.0 448.1,131.2 449.0,132.4 449.9,133.6 450.8,134.8 451.7,136.0 452.6,137.2 453.4,138.4 454.4,139.6 455.3,140.8 456.2,142.1 457.1,143.3 458.0,144.5 458.9,145.7 459.9,146.9 460.8,148.1 461.8,149.3 462.7,150.5 463.7,151.7 464.7,152.9 465.7,154.1 466.6,155.3 467.6,156.5 468.6,157.6 469.7,158.8 470.7,159.9 471.7,161.0 472.8,162.1 473.8,163.2 474.9,164.3 476.0,165.4 477.0,166.5 478.1,167.5 479.2,168.5 480.4,169.5 481.5,170.5 482.6,171.5 483.8,172.4 484.9,173.4 486.1,174.3 487.3,175.1 488.5,176.0 489.7,176.8 491.0,177.6 492.2,178.4 493.5,179.2 494.7,179.9 496.0,180.6 497.3,181.3 498.6,181.9 500.0,182.5 501.3,183.1 502.7,183.6 504.0,184.1 505.4,184.6 506.8,185.0 508.3,185.4 509.7,185.8 511.2,186.1 512.6,186.4 514.1,186.7 515.6,186.9 517.2,187.1 518.7,187.2 520.3,187.3 521.8,187.3 523.5,187.3 525.1,187.3 526.4,187.2" fill="none" stroke="#000000" stroke-width="3.2" stroke-linejoin="round"/>
<rect x="505" y="176" width="22" height="6" fill="#de1c2c"/><rect x="506" y="178.3" width="14" height="2" fill="#b8147a" opacity="0.8"/>
<line x1="299" y1="40.1" x2="366" y2="65.8" stroke="#000" stroke-width="2.6" stroke-linecap="round"/>
<polygon points="372.7,69.1 361.3,70.1 364.8,60.9" fill="#000"/>
<line x1="393.5" y1="224" x2="428" y2="173.5" stroke="#000" stroke-width="2.6" stroke-linecap="round"/>
<polygon points="432,167.8 422.6,173.7 430,178.7" fill="#000"/>
<text transform="translate(69.5,25.8) scale(1,1.09)" font-family="Liberation Sans" font-weight="bold" font-size="21" text-anchor="end">20</text>
<text transform="translate(69.5,108.9) scale(1,1.09)" font-family="Liberation Sans" font-weight="bold" font-size="21" text-anchor="end">10</text>
<text transform="translate(69.5,192.0) scale(1,1.09)" font-family="Liberation Sans" font-weight="bold" font-size="21" text-anchor="end">0</text>
<text transform="translate(69.5,275.1) scale(1,1.09)" font-family="Liberation Sans" font-weight="bold" font-size="21" text-anchor="end">-10</text>
<text transform="translate(80.7,340.9) scale(1,1.09)" font-family="Liberation Sans" font-weight="bold" font-size="21" text-anchor="middle">220</text>
<text transform="translate(169.7,340.9) scale(1,1.09)" font-family="Liberation Sans" font-weight="bold" font-size="21" text-anchor="middle">240</text>
<text transform="translate(258.7,340.9) scale(1,1.09)" font-family="Liberation Sans" font-weight="bold" font-size="21" text-anchor="middle">260</text>
<text transform="translate(347.6,340.9) scale(1,1.09)" font-family="Liberation Sans" font-weight="bold" font-size="21" text-anchor="middle">280</text>
<text transform="translate(436.6,340.9) scale(1,1.09)" font-family="Liberation Sans" font-weight="bold" font-size="21" text-anchor="middle">300</text>
<text transform="translate(525.6,340.9) scale(1,1.09)" font-family="Liberation Sans" font-weight="bold" font-size="21" text-anchor="middle">320</text>
<rect x="46" y="106" width="5" height="3.4" fill="#fff"/><rect x="54.05" y="106" width="3.9" height="3.4" fill="#fff"/>
<rect x="46" y="272" width="5" height="3.4" fill="#fff"/><rect x="54.05" y="272" width="3.9" height="3.4" fill="#fff"/>
<text x="302" y="372.4" font-family="Liberation Sans" font-weight="bold" font-size="24.5" text-anchor="middle">Wavelength (nm)</text>
<text transform="translate(27,163.3) rotate(-90)" font-family="Liberation Sans" font-weight="bold" font-size="24" text-anchor="middle" textLength="190.3" lengthAdjust="spacingAndGlyphs">Ellipticity (mdeg)</text>
<text x="136.5" y="37.8" font-family="Liberation Sans" font-weight="bold" font-size="27" letter-spacing="0.9">w/ PEG<tspan font-size="19.5" letter-spacing="0.9" dx="-1.5">2000</tspan></text>
<text x="332.3" y="245.3" font-family="Liberation Sans" font-weight="bold" font-size="27" letter-spacing="1">w/o PEG</text></svg>
</body></html>
